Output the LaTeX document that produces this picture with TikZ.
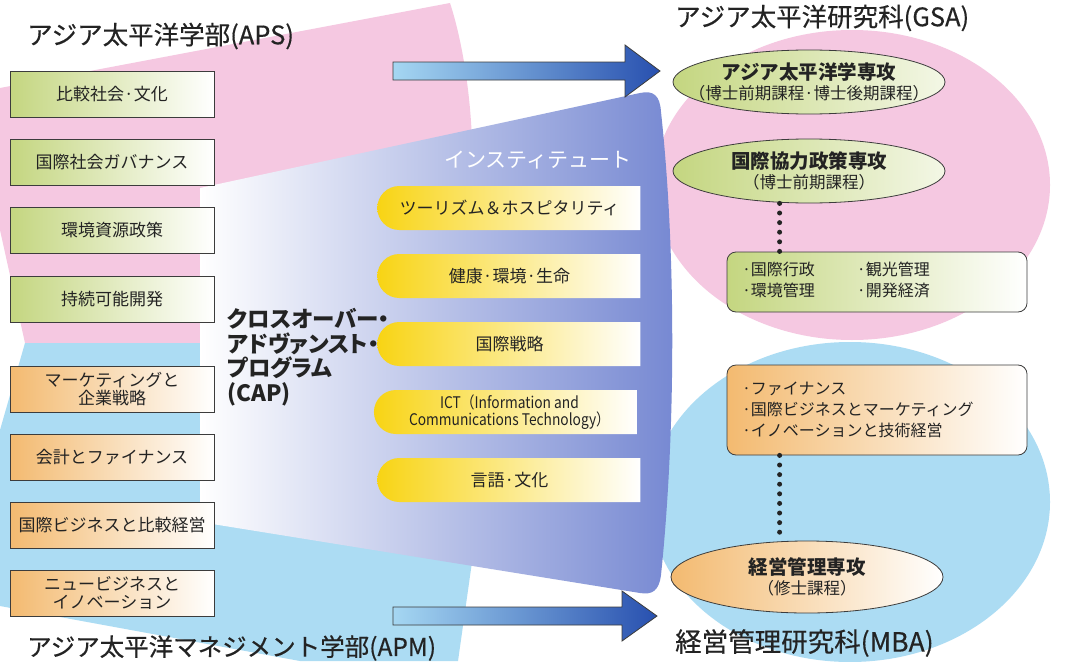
\documentclass[tikz,border=0pt]{standalone}
\usepackage{fontspec}
\setmainfont{Noto Sans CJK JP}
\newfontfamily\palfont{Noto Sans CJK JP}[RawFeature=+palt]
\newfontfamily\titlefont{Noto Sans CJK JP}[FakeBold=0.4]
\newfontfamily\condfont{Noto Sans CJK JP}[FakeStretch=0.86]
\usetikzlibrary{shapes.geometric,shapes.misc}
\definecolor{pinkbg}{RGB}{245,200,225}
\definecolor{bluebg}{RGB}{172,220,243}
\definecolor{funnelblue}{RGB}{118,136,210}
\definecolor{arrowlight}{RGB}{165,215,242}
\definecolor{arrowdark}{RGB}{40,80,175}
\definecolor{boxgreen}{RGB}{196,214,128}
\definecolor{boxorange}{RGB}{243,186,112}
\definecolor{ylw}{RGB}{248,212,20}
\definecolor{ink}{RGB}{35,35,35}
\definecolor{edge}{RGB}{60,60,60}
\tikzset{
  title/.style={font=\titlefont\fontsize{25.5}{28}\selectfont, text=ink, anchor=west, inner sep=0pt},
  lbox/.style={rectangle, draw=edge, line width=0.8pt, minimum width=204pt, minimum height=46pt,
    inner sep=0pt, font=\fontsize{17}{18}\selectfont, text=ink, align=center},
  gbox/.style={lbox, left color=boxgreen, right color=white},
  obox/.style={lbox, left color=boxorange, right color=white},
  ybox/.style={rounded rectangle, rounded rectangle right arc=none, minimum width=263pt,
    minimum height=44pt, inner sep=0pt, left color=ylw, middle color=ylw!30!white, right color=white,
    font=\fontsize{17}{18}\selectfont, text=ink, align=center},
  ellbase/.style={ellipse, draw=edge, line width=0.8pt, minimum width=272pt, minimum height=64pt, inner sep=0pt},
  gell/.style={ellbase, left color=boxgreen, right color=boxgreen!20!white},
  oell/.style={ellbase, left color=boxorange, right color=white},
  elltext/.style={font=\fontsize{16.5}{20}\selectfont, text=ink, align=center, inner sep=0pt},
  rbox/.style={rectangle, rounded corners=9pt, draw=edge, line width=0.8pt, minimum width=300pt,
    text width=270pt, inner xsep=15pt, align=left, font=\fontsize{16}{21}\selectfont, text=ink},
  dotconn/.style={draw=ink, line width=5pt, line cap=round, dash pattern=on 0pt off 9.6pt},
  arrowshape/.style={left color=arrowlight, right color=arrowdark, draw=edge, line width=0.8pt}
}
\begin{document}
\begin{tikzpicture}[x=1pt,y=-1pt]
\useasboundingbox (0,0) rectangle (1067,661);
\fill[white] (0,0) rectangle (1067,661);

% right background ellipses
\fill[pinkbg] (852,185) ellipse [x radius=198pt, y radius=155pt];
\fill[bluebg] (850,502) ellipse [x radius=200pt, y radius=160pt];

% left background regions
\fill[pinkbg] (0,88) -- (450,3) .. controls (462,40) and (470,90) .. (472,140) -- (472,170)
  -- (200,215) -- (200,343) -- (25,343) -- (0,230) -- cycle;
\fill[bluebg] (25,343) -- (200,343) -- (200,500) -- (472,540) -- (472,562) -- (458,661)
  -- (300,661) -- (0,606) -- (0,430) -- cycle;

% funnel (institute)
\shade[left color=white, right color=funnelblue] (200,188) -- (640,93)
  .. controls (654,90) and (660,96) .. (661,112)
  .. controls (676,250) and (676,430) .. (661,575)
  .. controls (659,591) and (652,595) .. (640,593) -- (200,522) -- cycle;

% arrows
\shadedraw[arrowshape] (393,62) -- (625,62) -- (625,45) -- (660,71) -- (625,97) -- (625,80) -- (393,80) -- cycle;
\shadedraw[arrowshape] (393,607) -- (622,607) -- (622,591) -- (657,616) -- (622,641) -- (622,625) -- (393,625) -- cycle;

% titles
\node[title] (aps) at (27,36) {アジア太平洋学部(APS)};
\node[title] (gsa) at (675,18) {アジア太平洋研究科(GSA)};
\node[title, font=\titlefont\fontsize{24.5}{28}\selectfont] (apm) at (27,648) {アジア太平洋マネジメント学部(APM)};
\node[title, font=\titlefont\fontsize{26.5}{28}\selectfont] (mba) at (675,643) {経営管理研究科(MBA)};

% left boxes
\node[gbox] (g1) at (112,94) {比較社会·文化};
\node[gbox] (g2) at (112,162) {国際社会ガバナンス};
\node[gbox] (g3) at (112,230) {環境資源政策};
\node[gbox] (g4) at (112,299) {持続可能開発};
\node[obox] (o1) at (112,389) {マーケティングと\\企業戦略};
\node[obox] (o2) at (112,457) {会計とファイナンス};
\node[obox] (o3) at (112,525) {国際ビジネスと比較経営};
\node[obox] (o4) at (112,593) {ニュービジネスと\\イノベーション};

% institute
\node[font=\fontsize{21}{22}\selectfont, text=white, inner sep=0pt] (inst) at (538,160) {インスティテュート};
\node[ybox] (y1) at (509.5,208) {ツーリズム＆ホスピタリティ};
\node[ybox] (y2) at (509.5,276) {健康·環境·生命};
\node[ybox] (y3) at (509.5,344) {国際戦略};
\node[ybox, font=\condfont\fontsize{16}{16.5}\selectfont] (y4) at (509.5,412) {ICT（Information and\\Communications Technology）};
\node[ybox] (y5) at (509.5,480) {言語·文化};

% CAP
\node[font=\palfont\fontsize{22.5}{24.5}\selectfont\bfseries, text=ink, align=left, inner sep=0pt, anchor=west] (cap) at (227,357)
  {クロスオーバー・\\アドヴァンスト・\\プログラム\\(CAP)};

% GSA
\node[gell] (gsa1) at (809,82) {};
\node[elltext] (gsa1t) at (gsa1) {{\fontsize{19.5}{20}\selectfont\bfseries アジア太平洋学専攻}\\（博士前期課程·博士後期課程）};
\node[gell] (gsa2) at (809,171) {};
\node[elltext] (gsa2t) at (gsa2) {{\fontsize{19.5}{20}\selectfont\bfseries 国際協力政策専攻}\\（博士前期課程）};
\node[rbox, minimum height=60pt, left color=boxgreen, right color=white] (gsabox) at (877,282)
  {\begin{tabular}{@{}l@{\hspace{42pt}}l@{}}·国際行政 & ·観光管理\\ ·環境管理 & ·開発経済\end{tabular}};

% MBA
\node[rbox, minimum height=90pt, left color=boxorange, right color=white] (mbabox) at (877,410)
  {·ファイナンス\\·国際ビジネスとマーケティング\\·イノベーションと技術経営};
\node[oell, minimum height=72pt] (mba1) at (807,577) {};
\node[elltext] (mba1t) at (mba1) {{\fontsize{19.5}{20}\selectfont\bfseries 経営管理専攻}\\（修士課程）};

% dotted connectors
\coordinate (d1) at ([xshift=53pt]gsabox.north west);
\draw[dotconn] (d1 |- gsa2.south) -- (d1);
\coordinate (d2) at ([xshift=53pt]mbabox.south west);
\draw[dotconn] (d2) -- (d2 |- mba1.north);
\end{tikzpicture}
\end{document}
